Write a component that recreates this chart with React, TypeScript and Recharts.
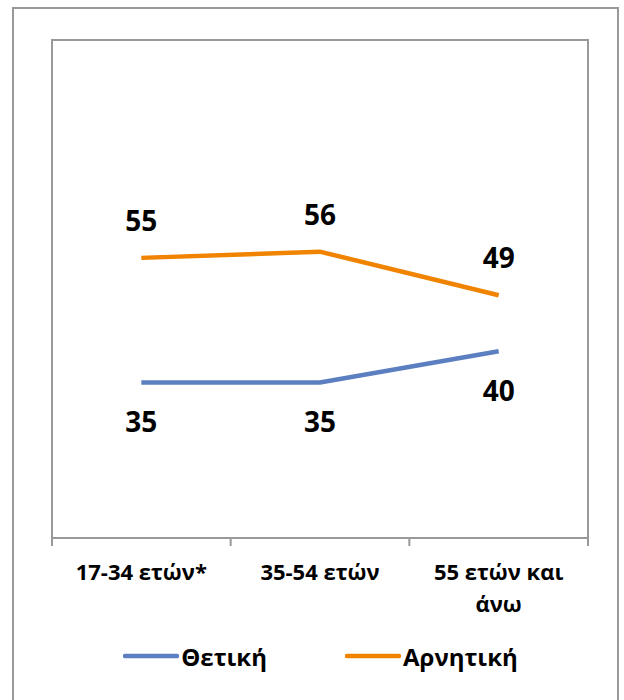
import React from "react";
import {
  LineChart,
  Line,
  XAxis,
  YAxis,
  ReferenceArea,
  LabelList,
  Legend,
} from "recharts";

const categoryLines = [["17-34 ετών*"], ["35-54 ετών"], ["55 ετών και", "άνω"]];
const categories = categoryLines.map((l) => l.join(" "));
const positiveValues = [35, 35, 40];
const negativeValues = [55, 56, 49];
const seriesNames = ["Θετική", "Αρνητική"];

const data = categories.map((cat, i) => ({
  cat,
  pos: positiveValues[i],
  neg: negativeValues[i],
}));

const FONT = "'Open Sans', 'DejaVu Sans', sans-serif";
const BLUE = "#5B7FC0";
const ORANGE = "#F08300";
const GRID = "#999999";

const AxisTick = (props: any) => {
  const { x, y, payload, index, visibleTicksCount } = props;
  const lines = categoryLines[index] || [String(payload.value)];
  const half = payload && payload.offset ? payload.offset : 0;
  const count = visibleTicksCount || categories.length;
  const axisY = y - 8;
  return (
    <g>
      {half > 0 && (
        <line x1={x - half} y1={axisY} x2={x - half} y2={axisY + 8} stroke={GRID} strokeWidth={2} />
      )}
      {half > 0 && index === count - 1 && (
        <line x1={x + half} y1={axisY} x2={x + half} y2={axisY + 8} stroke={GRID} strokeWidth={2} />
      )}
      <text
        x={x}
        textAnchor="middle"
        fontFamily={FONT}
        fontWeight={700}
        fontSize={22}
        fill="#000"
      >
        {lines.map((l: string, i: number) => (
          <tspan key={i} x={x} y={axisY + 42 + i * 32}>
            {l}
          </tspan>
        ))}
      </text>
    </g>
  );
};

const makeLabel = (dy: number) => (props: any) => {
  const { x, y, value } = props;
  return (
    <text
      x={x}
      y={y + dy}
      textAnchor="middle"
      fontFamily={FONT}
      fontWeight={700}
      fontSize={28}
      fill="#000"
    >
      {value}
    </text>
  );
};

const LegendContent = () => {
  const colors = [BLUE, ORANGE];
  return (
    <div
      style={{
        display: "flex",
        justifyContent: "center",
        alignItems: "center",
        height: 36,
        paddingLeft: 17,
        boxSizing: "border-box",
        fontFamily: FONT,
        fontWeight: 700,
        fontSize: 24,
        color: "#000",
      }}
    >
      {seriesNames.map((n, i) => (
        <div
          key={n}
          style={{
            display: "flex",
            alignItems: "center",
            marginLeft: i === 0 ? 0 : 78,
          }}
        >
          <svg width={56} height={8} style={{ display: "block" }}>
            <line
              x1={2}
              y1={4}
              x2={54}
              y2={4}
              stroke={colors[i]}
              strokeWidth={4.5}
              strokeLinecap="round"
            />
          </svg>
          <span style={{ marginLeft: 2 }}>{n}</span>
        </div>
      ))}
    </div>
  );
};

export default function App() {
  return (
    <div
      style={{
        position: "absolute",
        left: 0,
        top: 0,
        width: 624,
        height: 700,
        background: "#fff",
        overflow: "hidden",
      }}
    >
      <div
        style={{
          position: "absolute",
          left: 12,
          top: 7,
          width: 607,
          height: 720,
          border: `2px solid ${GRID}`,
          boxSizing: "border-box",
        }}
      />
      <div style={{ position: "absolute", left: 0, top: 0 }}>
        <LineChart
          width={624}
          height={700}
          data={data}
          margin={{ top: 40, right: 36, left: 52, bottom: 0 }}
        >
          <XAxis
            dataKey="cat"
            scale="band"
            axisLine={{ stroke: GRID, strokeWidth: 2 }}
            tickLine={false}
            tickSize={6}
            tickMargin={2}
            tick={<AxisTick />}
            height={126}
            interval={0}
          />
          <YAxis hide domain={[10, 90]} />
          <ReferenceArea
            y1={10}
            y2={90}
            fill="none"
            stroke={GRID}
            strokeWidth={2}
            ifOverflow="visible"
          />
          <Line
            dataKey="pos"
            name={seriesNames[0]}
            stroke={BLUE}
            strokeWidth={4.5}
            dot={false}
            isAnimationActive={false}
          >
            <LabelList dataKey="pos" content={makeLabel(50)} />
          </Line>
          <Line
            dataKey="neg"
            name={seriesNames[1]}
            stroke={ORANGE}
            strokeWidth={4.5}
            dot={false}
            isAnimationActive={false}
          >
            <LabelList dataKey="neg" content={makeLabel(-27)} />
          </Line>
          <Legend
            verticalAlign="bottom"
            content={<LegendContent />}
            wrapperStyle={{ top: 638, left: 0, width: 624, height: 36 }}
          />
        </LineChart>
      </div>
    </div>
  );
}
